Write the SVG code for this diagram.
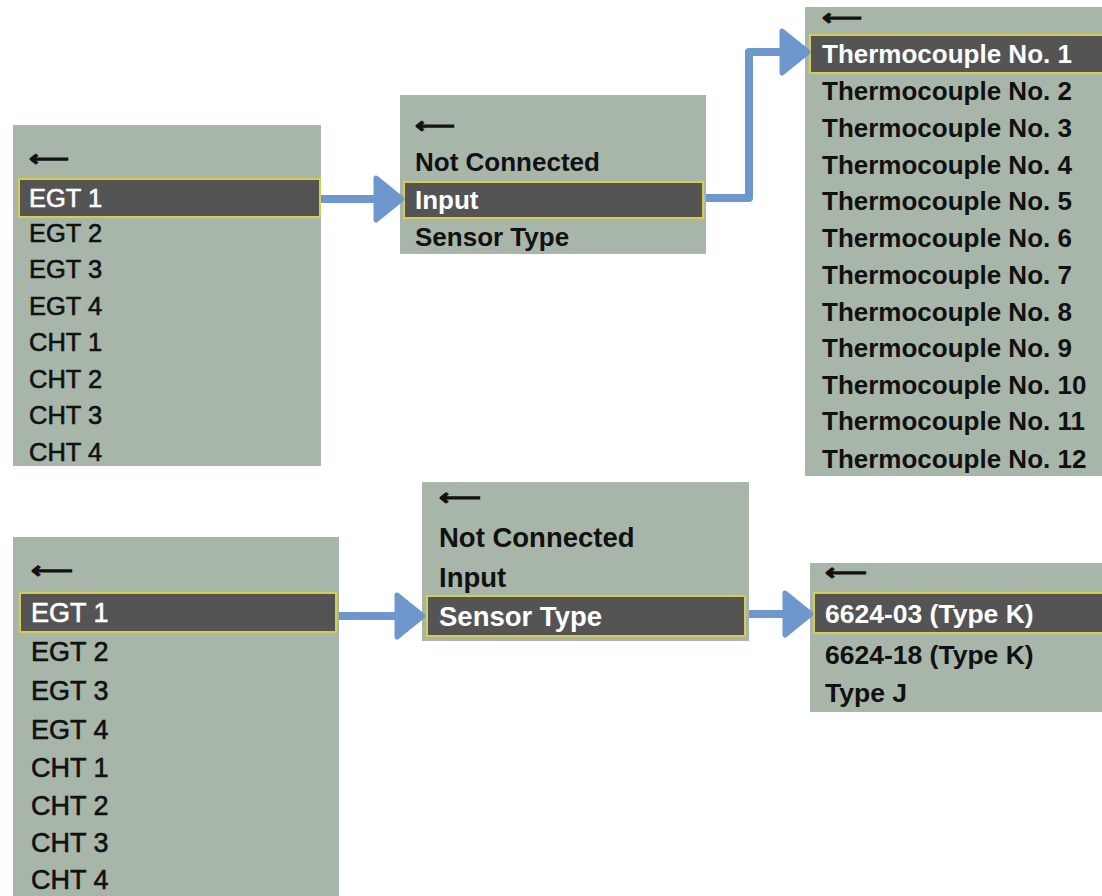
<svg xmlns="http://www.w3.org/2000/svg" width="1102" height="896" viewBox="0 0 1102 896">
<style>
.panel{fill:#a8b6aa}
.hl{fill:#545454;stroke:#d6cd4c;stroke-width:2}
.t{font-family:"Liberation Sans",Arial,sans-serif;fill:#111}
.m{stroke:#111;stroke-width:0.6}
.b{font-weight:bold}
.w{fill:#ffffff}
.m.w{stroke:#ffffff}
.back{font-family:"DejaVu Sans",sans-serif;fill:#111;stroke:#111;stroke-width:1.3}
.conn{fill:none;stroke:#6d97cd;stroke-width:8;stroke-linejoin:round}
</style>
<defs>
<marker id="ah" viewBox="0 0 32 48" refX="18" refY="24" markerWidth="32" markerHeight="48" markerUnits="userSpaceOnUse" orient="auto">
<path d="M3,3 L29,24 L3,45 Z" fill="#6d97cd" stroke="#6d97cd" stroke-width="5" stroke-linejoin="round"/>
</marker>
</defs>
<rect width="1102" height="896" fill="#ffffff"/>

<g id="menu-top-channel">
<rect class="panel" x="13" y="125" width="308" height="341"/>
<text class="back" x="29" y="166" font-size="22" textLength="40" lengthAdjust="spacingAndGlyphs">⟵</text>
<rect class="hl" x="19" y="179" width="301" height="38"/>
<text class="t m w" x="29" y="207" font-size="25.5">EGT 1</text>
<text class="t m" x="29" y="242" font-size="25.5">EGT 2</text>
<text class="t m" x="29" y="278" font-size="25.5">EGT 3</text>
<text class="t m" x="29" y="315" font-size="25.5">EGT 4</text>
<text class="t m" x="29" y="351" font-size="25.5">CHT 1</text>
<text class="t m" x="29" y="388" font-size="25.5">CHT 2</text>
<text class="t m" x="29" y="424" font-size="25.5">CHT 3</text>
<text class="t m" x="29" y="461" font-size="25.5">CHT 4</text>
</g>

<g id="menu-top-option">
<rect class="panel" x="400" y="95" width="306" height="159"/>
<text class="back" x="415" y="133" font-size="22" textLength="40" lengthAdjust="spacingAndGlyphs">⟵</text>
<text class="t b" x="415" y="171" font-size="26">Not Connected</text>
<rect class="hl" x="404" y="182" width="299" height="36"/>
<text class="t b w" x="415" y="209" font-size="26">Input</text>
<text class="t b" x="415" y="246" font-size="26">Sensor Type</text>
</g>

<g id="menu-top-input">
<rect class="panel" x="805" y="7" width="300" height="469"/>
<text class="back" x="822" y="25" font-size="22" textLength="40" lengthAdjust="spacingAndGlyphs">⟵</text>
<rect class="hl" x="810" y="35" width="300" height="38"/>
<text class="t b w" x="822" y="63" font-size="26">Thermocouple No. 1</text>
<text class="t b" x="822" y="100" font-size="26">Thermocouple No. 2</text>
<text class="t b" x="822" y="137" font-size="26">Thermocouple No. 3</text>
<text class="t b" x="822" y="174" font-size="26">Thermocouple No. 4</text>
<text class="t b" x="822" y="210" font-size="26">Thermocouple No. 5</text>
<text class="t b" x="822" y="247" font-size="26">Thermocouple No. 6</text>
<text class="t b" x="822" y="284" font-size="26">Thermocouple No. 7</text>
<text class="t b" x="822" y="321" font-size="26">Thermocouple No. 8</text>
<text class="t b" x="822" y="357" font-size="26">Thermocouple No. 9</text>
<text class="t b" x="822" y="394" font-size="26">Thermocouple No. 10</text>
<text class="t b" x="822" y="430" font-size="26">Thermocouple No. 11</text>
<text class="t b" x="822" y="468" font-size="26">Thermocouple No. 12</text>
</g>

<g id="menu-bottom-channel">
<rect class="panel" x="13" y="537" width="326" height="365"/>
<text class="back" x="31" y="578" font-size="23" textLength="42" lengthAdjust="spacingAndGlyphs">⟵</text>
<rect class="hl" x="20" y="593" width="316" height="39"/>
<text class="t m w" x="31" y="622" font-size="27">EGT 1</text>
<text class="t m" x="31" y="661" font-size="27">EGT 2</text>
<text class="t m" x="31" y="700" font-size="27">EGT 3</text>
<text class="t m" x="31" y="739" font-size="27">EGT 4</text>
<text class="t m" x="31" y="777" font-size="27">CHT 1</text>
<text class="t m" x="31" y="815" font-size="27">CHT 2</text>
<text class="t m" x="31" y="852" font-size="27">CHT 3</text>
<text class="t m" x="31" y="889" font-size="27">CHT 4</text>
</g>

<g id="menu-bottom-option">
<rect class="panel" x="422" y="482" width="327" height="159"/>
<text class="back" x="439" y="505" font-size="23" textLength="42" lengthAdjust="spacingAndGlyphs">⟵</text>
<text class="t b" x="439" y="547" font-size="27.5">Not Connected</text>
<text class="t b" x="439" y="587" font-size="27.5">Input</text>
<rect class="hl" x="427" y="596" width="318" height="40"/>
<text class="t b w" x="439" y="626" font-size="27.5">Sensor Type</text>
</g>

<g id="menu-bottom-sensor">
<rect class="panel" x="810" y="563" width="300" height="149"/>
<text class="back" x="825" y="580" font-size="23" textLength="42" lengthAdjust="spacingAndGlyphs">⟵</text>
<rect class="hl" x="814" y="593" width="300" height="40"/>
<text class="t b w" x="825" y="623" font-size="26.5">6624-03 (Type K)</text>
<text class="t b" x="825" y="664" font-size="26.5">6624-18 (Type K)</text>
<text class="t b" x="825" y="702" font-size="26.5">Type J</text>
</g>

<g id="connectors">
<path class="conn" d="M321,199 H391" marker-end="url(#ah)"/>
<path class="conn" d="M706,198 H749 V52 H797" marker-end="url(#ah)"/>
<path class="conn" d="M339,616 H412" marker-end="url(#ah)"/>
<path class="conn" d="M749,614 H800" marker-end="url(#ah)"/>
</g>
</svg>
